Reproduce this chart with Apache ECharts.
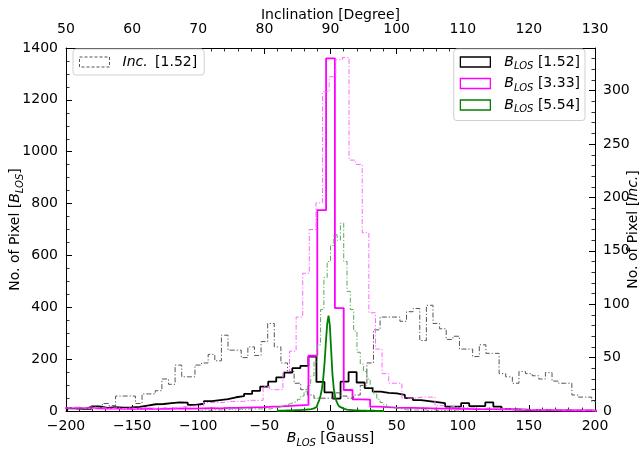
<!DOCTYPE html>
<html>
<head>
<meta charset="utf-8">
<script src="https://cdn.jsdelivr.net/npm/echarts@6/dist/echarts.min.js"></script>
<style>
  html, body { margin: 0; padding: 0; background: #fff; }
  #chart { width: 642px; height: 451px; }
</style>
</head>
<body>
<div id="chart"></div>
<script>
// B_LOS histograms (bottom axis, left axis): first bin edge, bin width, counts
const blos152Start = -199.12
const blos152Width = 6.08
const blos152Counts = [
  10, 8, 8, 18, 12, 15, 13, 14, 16, 21,
  26, 27, 30, 33, 32, 24, 28, 38, 42, 46,
  53, 57, 66, 78, 94, 113, 130, 148, 165, 174,
  210, 112, 72, 48, 113, 150, 110, 88, 75, 70,
  68, 62, 50, 42, 38, 34, 30, 17, 17, 30,
  19, 19, 33, 17, 7, 6, 5, 3, 2, 2,
  1, 2, 1, 1, 1, 0
]

const blos333Start = -203.13
const blos333Width = 6.66
const blos333Counts = [
  11, 10, 12, 10, 9, 10, 8, 9, 8, 9,
  8, 8, 9, 10, 9, 10, 11, 10, 12, 12,
  13, 14, 15, 17, 18, 20, 22, 24, 213, 775,
  1360, 397, 81, 45, 44, 17, 15, 13, 12, 12,
  11, 10, 9, 9, 8, 8, 7, 7, 7, 6,
  6, 4, 4, 3, 3, 3, 2, 2, 2, 2,
  1
]

const blos554Start = -40.5
const blos554Width = 1
const blos554Counts = [
  0, 1, 0, 1, 1, 1, 1, 2, 1, 2,
  2, 2, 2, 3, 2, 3, 3, 3, 4, 4,
  4, 5, 5, 6, 6, 7, 8, 10, 12, 16,
  22, 30, 42, 60, 85, 125, 185, 265, 335, 368,
  330, 235, 140, 85, 55, 38, 26, 18, 13, 10,
  8, 6, 5, 4, 4, 3, 3, 3, 2, 2,
  2, 2, 1, 2, 1, 1, 1, 1, 0, 1,
  1, 0, 1, 0, 0, 1, 0, 0, 0, 0,
  0
]

// Inclination histograms (top axis, right axis)
const inc152Start = 49.5
const inc152Width = 1
const inc152Counts = [
  3, 2, 3, 2, 4, 3, 7, 5, 14, 14,
  14, 7, 16, 16, 19, 30, 25, 43, 32, 32,
  43, 45, 53, 47, 71, 57, 57, 50, 60, 52,
  65, 82, 60, 45, 37, 26, 20, 15, 12, 12,
  12, 17, 14, 12, 15, 24, 45, 76, 88, 88,
  88, 84, 93, 96, 66, 99, 82, 77, 67, 70,
  58, 58, 51, 62, 54, 54, 35, 32, 26, 37,
  35, 33, 30, 36, 28, 26, 26, 15, 13, 13,
  9
]

const inc333Start = 49.8
const inc333Width = 1
const inc333Counts = [
  3, 4, 3, 2, 3, 3, 2, 3, 2, 3,
  2, 3, 3, 2, 3, 3, 3, 4, 4, 5,
  5, 8, 8, 8, 9, 9, 9, 10, 10, 10,
  23, 20, 20, 37, 56, 88, 129, 170, 195, 299,
  313, 329, 331, 235, 231, 167, 92, 58, 35, 26,
  26, 12, 12, 13, 13, 13, 5, 5, 4, 3,
  3, 3, 2, 3, 2, 2, 2, 2, 1, 2,
  1, 1, 1, 1, 1, 1, 1, 0, 1, 0,
  0
]

const inc554Start = 70
const inc554Width = 0.5
const inc554Counts = [
  0, 1, 1, 0, 1, 1, 1, 1, 1, 2,
  1, 1, 2, 1, 2, 2, 2, 2, 2, 2,
  2, 2, 3, 3, 4, 5, 6, 7, 8, 9,
  11, 14, 18, 24, 33, 46, 62, 95, 125, 140,
  155, 165, 160, 176, 140, 112, 95, 75, 55, 44,
  37, 30, 22, 16, 11, 8, 6, 4, 3, 3,
  2, 2, 1, 1, 1, 1, 1, 1, 1, 0,
  1, 1, 0, 1, 0, 0, 1, 0, 0, 0
]

const bottomTicks = { min: -200, max: 200, interval: 50 }
const topTicks = { min: 50, max: 130, interval: 10 }
const leftTicks = { min: 0, max: 1400, interval: 200 }
const rightTicks = { min: 0, max: 340, interval: 50 }

const font = 'DejaVu Sans'

// histogram outline as step points: [left edge, count]
function stepData(start, width, counts) {
  const pts = [[start, 0]]
  counts.forEach((c, i) => pts.push([start + i * width, c]))
  const end = start + counts.length * width
  pts.push([end, counts[counts.length - 1]])
  pts.push([end, 0])
  return pts
}

const rich = {
  it: { fontStyle: 'italic', fontFamily: font, fontSize: 14, color: '#000' },
  itp: { fontStyle: 'italic', fontFamily: font, fontSize: 14, color: '#000', padding: [0, 3, 0, 0] },
  sub: { fontStyle: 'italic', fontFamily: font, fontSize: 10, color: '#000', padding: [9, 0, 0, 0] }
}

function legendLabel(name) {
  if (name.indexOf('B_LOS') === 0) {
    return '{it|B}{sub|LOS} ' + name.slice(6)
  }
  return '{itp|Inc.} ' + name.slice(5)
}

function axisBase(extra) {
  return Object.assign({
    type: 'value',
    axisLine: { show: true, onZero: false, lineStyle: { color: '#000', width: 1 } },
    axisTick: { show: true, inside: true, length: 6, lineStyle: { color: '#000', width: 1 } },
    minorTick: { show: true, splitNumber: 5, length: 3.5, lineStyle: { color: '#000', width: 0.8 } },
    axisLabel: {
      fontFamily: font, fontSize: 14, color: '#000',
      formatter: v => (v < 0 ? '\u2212' + (-v) : String(v))
    },
    splitLine: { show: false },
    nameLocation: 'middle',
    nameMoveOverlap: false,
    nameTextStyle: { fontFamily: font, fontSize: 14, color: '#000', rich: rich }
  }, extra)
}

const chart = echarts.init(document.getElementById('chart'))

function histSeries(name, xi, yi, data, color, width, dashed) {
  return {
    name: name,
    type: 'line',
    xAxisIndex: xi,
    yAxisIndex: yi,
    step: 'end',
    showSymbol: false,
    symbol: 'none',
    data: data,
    lineStyle: { color: color, width: width, type: dashed ? [5, 2, 1.2, 2] : 'solid' },
    itemStyle: { color: color },
    emphasis: { disabled: true },
    z: dashed ? 3 : 2
  }
}

chart.setOption({
  animation: false,
  backgroundColor: '#fff',
  grid: { left: 66, right: 47, top: 48, bottom: 40, containLabel: false, outerBoundsMode: 'none' },
  xAxis: [
    axisBase(Object.assign({
      position: 'bottom',
      name: '{it|B}{sub|LOS} [Gauss]',
      nameGap: 18
    }, bottomTicks)),
    axisBase(Object.assign({
      position: 'top',
      name: 'Inclination [Degree]',
      nameGap: 26,
      axisLabel: {
        fontFamily: font, fontSize: 14, color: '#000', margin: 12
      }
    }, topTicks))
  ],
  yAxis: [
    axisBase(Object.assign({
      position: 'left',
      name: 'No. of Pixel [{it|B}{sub|LOS}]',
      nameGap: 41,
      nameRotate: 90,
      minorTick: { show: true, splitNumber: 4, length: 3.5, lineStyle: { color: '#000', width: 0.8 } }
    }, leftTicks)),
    axisBase(Object.assign({
      position: 'right',
      name: 'No. of Pixel [{it|Inc.}]',
      nameGap: 31,
      nameRotate: 90,
      axisLabel: {
        fontFamily: font, fontSize: 14, color: '#000', showMaxLabel: false
      }
    }, rightTicks))
  ],
  legend: [
    {
      data: [{
        name: 'Inc. [1.52]', icon: 'rect',
        itemStyle: { color: 'rgba(255,255,255,0)', borderColor: '#555', borderWidth: 1, borderType: [3, 2] }
      }],
      left: 73, top: 49,
      itemWidth: 30, itemHeight: 10,
      padding: [6, 7, 6, 6],
      backgroundColor: '#fff', borderColor: '#d0d0d0', borderWidth: 1, borderRadius: 3,
      formatter: legendLabel,
      textStyle: { fontFamily: font, fontSize: 14, color: '#000', rich: rich, padding: [0, 0, 0, 8] },
      selectedMode: false
    },
    {
      data: [
        { name: 'B_LOS [1.52]', icon: 'rect', itemStyle: { color: 'rgba(255,255,255,0)', borderColor: '#000', borderWidth: 1.3 } },
        { name: 'B_LOS [3.33]', icon: 'rect', itemStyle: { color: 'rgba(255,255,255,0)', borderColor: '#ff00ff', borderWidth: 1.3 } },
        { name: 'B_LOS [5.54]', icon: 'rect', itemStyle: { color: 'rgba(255,255,255,0)', borderColor: '#008000', borderWidth: 1.3 } }
      ],
      orient: 'vertical',
      right: 57, top: 49,
      itemWidth: 30, itemHeight: 10, itemGap: 5,
      padding: [6, 5, 6, 6],
      backgroundColor: '#fff', borderColor: '#d0d0d0', borderWidth: 1, borderRadius: 3,
      formatter: legendLabel,
      textStyle: { fontFamily: font, fontSize: 14, color: '#000', rich: rich, padding: [0, 0, 0, 9] },
      selectedMode: false
    }
  ],
  series: [
    histSeries('B_LOS [1.52]', 0, 0, stepData(blos152Start, blos152Width, blos152Counts), '#000000', 1.8, false),
    histSeries('B_LOS [3.33]', 0, 0, stepData(blos333Start, blos333Width, blos333Counts), '#ff00ff', 1.8, false),
    histSeries('B_LOS [5.54]', 0, 0, stepData(blos554Start, blos554Width, blos554Counts), '#008000', 1.8, false),
    histSeries('Inc. [1.52]', 1, 1, stepData(inc152Start, inc152Width, inc152Counts), '#555555', 1, true),
    histSeries('Inc. [3.33]', 1, 1, stepData(inc333Start, inc333Width, inc333Counts), '#ff66ff', 1, true),
    histSeries('Inc. [5.54]', 1, 1, stepData(inc554Start, inc554Width, inc554Counts), '#5fa85f', 1, true)
  ]
})
</script>
</body>
</html>
